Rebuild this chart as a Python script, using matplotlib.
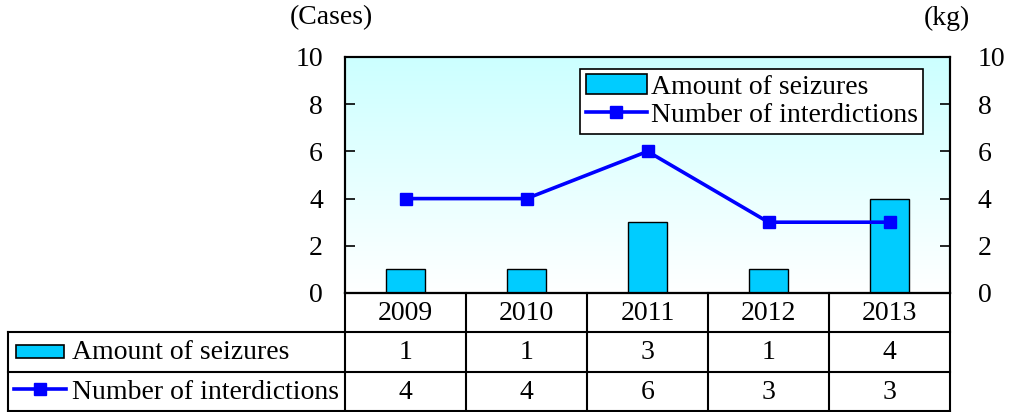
import numpy as np
import matplotlib
matplotlib.use("Agg")
import matplotlib.pyplot as plt
from matplotlib.patches import Rectangle
from matplotlib.lines import Line2D

years = ["2009", "2010", "2011", "2012", "2013"]
seizures = [1, 1, 3, 1, 4]
interdictions = [4, 4, 6, 3, 3]
yticks = [0, 2, 4, 6, 8, 10]

bar_color = "#00ccff"
line_color = "#0000ff"

plt.rcParams["font.family"] = ["Liberation Serif", "DejaVu Serif"]
plt.rcParams["font.size"] = 20

W, H = 1009, 412
fig = plt.figure(figsize=(W / 100, H / 100), dpi=100)

# main plot area
ax = fig.add_axes([345 / W, (H - 293) / H, 605 / W, 236 / H])
x = np.arange(len(years))
ax.set_xlim(-0.5, len(years) - 0.5)
ax.set_ylim(0, 10)

grad = np.linspace(0, 1, 256).reshape(-1, 1)
cmap = matplotlib.colors.LinearSegmentedColormap.from_list("bg", ["#ffffff", "#ccffff"])
ax.imshow(grad, extent=(-0.5, len(years) - 0.5, 0, 10), origin="lower",
          aspect="auto", cmap=cmap, zorder=0)

ax.bar(x, seizures, width=0.33, color=bar_color, edgecolor="black", linewidth=1.0, zorder=2)
ax.plot(x, interdictions, color=line_color, linewidth=2.6, marker="s", markersize=8, zorder=3)

ax.set_yticks(yticks)
ax.set_xticks([])
ax.tick_params(axis="y", direction="in", length=7, width=1.2, pad=16)
ax2 = ax.twinx()
ax2.set_ylim(0, 10)
ax2.set_yticks(yticks)
ax2.tick_params(axis="y", direction="in", length=7, width=1.2, pad=20)
for a in (ax, ax2):
    for s in a.spines.values():
        s.set_linewidth(1.5)

bar_h = Rectangle((0, 0), 1, 1, facecolor=bar_color, edgecolor="black", linewidth=1.2)
line_h = Line2D([], [], color=line_color, linewidth=2.6, marker="s", markersize=8)
leg = ax2.legend([bar_h, line_h], ["Amount of seizures", "Number of interdictions"],
                 loc="upper right", bbox_to_anchor=(0.956, 0.95), frameon=True, fancybox=False,
                 edgecolor="black", framealpha=1, handlelength=2.2, handletextpad=0.15,
                 borderpad=0.2, labelspacing=0.1, borderaxespad=0)
leg.get_frame().set_linewidth(1.2)

fig.text(290 / W, 1 - 18 / H, "(Cases)", ha="left", va="center")
fig.text(947 / W, 1 - 18 / H, "(kg)", ha="center", va="center")

# data table below the chart
left_x = -0.5 - 337 / 121
tb = fig.add_axes([8 / W, 1 / H, (950 - 8) / W, 118 / H])
tb.set_xlim(left_x, len(years) - 0.5)
tb.set_ylim(3, 0)
tb.axis("off")
lw = 1.5
tb.plot([-0.5, len(years) - 0.5], [0, 0], color="black", lw=lw, clip_on=False)
for yy in (1, 2, 3):
    tb.plot([left_x, len(years) - 0.5], [yy, yy], color="black", lw=lw, clip_on=False)
tb.plot([left_x, left_x], [1, 3], color="black", lw=lw, clip_on=False)
for xx in np.arange(len(years) + 1) - 0.5:
    tb.plot([xx, xx], [0, 3], color="black", lw=lw, clip_on=False)

for i, yr in enumerate(years):
    tb.text(i, 0.52, yr, ha="center", va="center")
    tb.text(i, 1.52, str(seizures[i]), ha="center", va="center")
    tb.text(i, 2.52, str(interdictions[i]), ha="center", va="center")

px = 121  # pixels per data unit in the table
icon_l = left_x + 8 / px
icon_r = left_x + 56 / px
tb.add_patch(Rectangle((icon_l, 1.33), icon_r - icon_l, 0.33, facecolor=bar_color,
                       edgecolor="black", linewidth=1.2))
tb.plot([left_x + 6 / px, left_x + 58 / px], [2.45, 2.45], color=line_color, lw=2.6)
tb.plot([left_x + 32 / px], [2.45], color=line_color, marker="s", markersize=8)
tb.text(left_x + 64 / px, 1.52, "Amount of seizures", ha="left", va="center")
tb.text(left_x + 64 / px, 2.52, "Number of interdictions", ha="left", va="center")

fig.savefig("out.png", dpi=100)
